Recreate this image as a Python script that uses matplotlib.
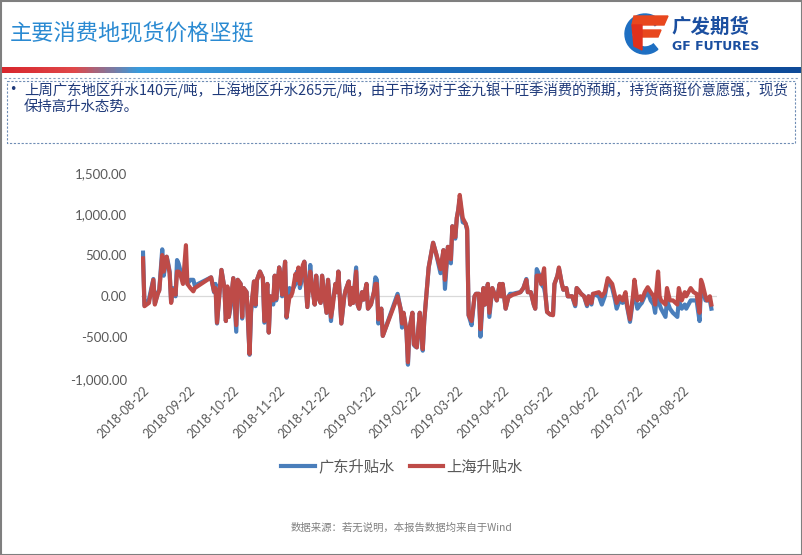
import numpy as np
import pandas as pd
import matplotlib
matplotlib.use('Agg')
import matplotlib.pyplot as plt
from matplotlib.colors import LinearSegmentedColormap
from matplotlib.patches import Rectangle, Wedge, Polygon

plt.rcParams['font.family'] = ['Noto Sans CJK SC', 'DejaVu Sans']

# 数据：距 2018-08-22 的天数，广东 / 上海升贴水（元/吨）
start = '2018-08-22'
day = [0, 1, 4, 7, 8, 10, 11, 13, 14, 16, 17, 18, 19, 20, 22, 23, 24, 25, 27, 29, 30, 32, 34, 35,
       46, 48, 49, 50, 52, 53, 55, 56, 57, 58, 59, 61, 63, 64, 66, 67, 68, 70, 72, 73,
       75, 76, 77, 79, 81, 82, 84, 85, 86, 88, 89, 90, 92, 93, 94, 96, 97, 99, 100, 101,
       103, 104, 105, 106, 108, 109, 111, 113, 114, 116, 117, 118, 120, 121, 123, 124, 125, 127, 128, 130,
       131, 132, 134, 136, 137, 139, 140, 141, 142, 144, 145, 146, 148, 149, 151, 152, 154, 156, 157, 158,
       159, 161, 162,
       172, 174, 175, 176, 178, 179, 180, 182, 183, 184, 185, 186, 187, 189, 190, 193, 196, 198, 201, 203,
       204, 206, 208, 209, 211, 212, 213, 214, 216, 218, 219, 220, 222, 224, 225, 227, 228, 230, 231, 233,
       234, 236, 237, 239,
       240, 241, 242, 243, 245, 247, 248, 250, 252, 255, 257, 259, 260, 262, 264, 265, 266, 268, 269, 271,
       272, 273, 275, 277, 278, 280, 281, 283, 284, 286, 287, 289, 290, 292, 293, 294, 296, 298, 300, 301,
       303, 304,
       308, 310, 312, 314, 317, 319, 320, 322, 324, 326, 327, 329, 331, 332, 334, 336, 337, 339, 341, 343,
       345, 346, 348, 349, 350, 353, 354, 356, 358, 361, 362, 364, 366, 367, 370, 372, 374, 376, 377, 378,
       380, 381, 383, 384]

gd = [530, -110, -40, 210, -90, 40, 80, 570, 250, 480, 400, 300, -70, 100, 0, 440, 400, 330, 200, 300, 150, 200, 200, 130,
      230, 50, 150, -330, 100, 320, 100, -300, 100, -250, -150, 220, -430, 200, 150, -270, 100, 50, -710, -200,
      180, -120, 200, 300, 220, -320, 150, -440, 0, -100, 250, -50, 350, 250, 0, 420, -260, 100, 50, 80,
      150, 300, 300, 100, 250, 420, -130, 380, 150, -100, 250, 0, -80, 250, -50, -200, 200, -300, -100, 150,
      50, 300, -330, 0, 80, 180, -100, 100, -80, 350, -100, -150, 50, -40, 150, -150, -100, 50, 230, 200,
      -330, -150, -480,
      30, -150, -380, -200, -420, -830, -400, -200, -590, -610, -620, -400, -200, -660, -300, 350, 650, 520, 280, 560,
      90, 600, 400, 850, 700, 950, 1050, 1180, 900, 880, 800, -230, -350, 0, 30, 30, -490, 100, -100, 150,
      -250, 100, 50, -50,
      50, 150, 0, 150, -150, 0, 30, 30, 40, 50, 100, 210, 50, 50, -100, -150, 330, 250, 150, 100,
      0, -190, -220, -220, 150, 250, 340, 150, 80, 100, 0, 0, 0, -120, 100, 80, 30, 0, -120, 0,
      -100, 30,
      0, -100, 0, 200, 100, -50, -150, -50, -80, 0, -120, -310, -50, 100, -150, -100, -80, 0, 50, -50,
      -100, -200, 150, -100, -150, -250, -50, -150, -200, -250, -50, -150, -100, -150, -50, -50, -50, -300, 100, 100,
      -50, -50, -50, -150]

sh = [460, -120, -80, 200, -100, 30, 70, 500, 300, 480, 380, 280, -80, 80, 20, 300, 300, 280, 150, 620, 150, 100, 60, 100,
      230, 60, 100, -320, 100, 320, 100, -300, 120, -250, -100, 220, -350, 200, 150, -250, 100, 50, -700, -150,
      180, -100, 200, 300, 220, -300, 150, -440, 0, -50, 250, -30, 350, 250, 20, 420, -250, 0, 0, 50,
      270, 200, 350, 150, 380, 420, -130, 300, 150, -100, 250, 0, -80, 250, -50, -200, 200, -250, -150, 150,
      50, 300, -330, 0, 80, 180, -100, 100, -80, 300, -100, -150, 50, -40, 150, -150, -100, 50, 150, 150,
      -280, -150, -480,
      0, -150, -330, -200, -420, -800, -400, -200, -580, -600, -620, -400, -200, -640, -300, 350, 650, 520, 330, 560,
      200, 600, 450, 850, 720, 950, 1050, 1230, 950, 880, 820, -230, -300, 0, 30, 30, -400, 100, -100, 150,
      -200, 100, 50, -50,
      50, 150, 0, 150, -150, 0, 0, 20, 30, 50, 100, 200, 50, 50, -100, -150, 250, 250, 150, 340,
      0, -190, -220, -230, 150, 250, 350, 150, 80, 100, 0, 0, 0, -100, 100, 80, 30, 0, -100, 0,
      -80, 30,
      50, 0, 50, 220, 150, 0, -80, 0, -50, 50, -100, -280, 0, 200, -50, 0, -50, 50, 110, 50,
      0, -100, 300, 0, -50, -100, 100, -50, -50, -100, 100, -50, 50, 0, 100, 50, 30, -200, 200, 150,
      0, -50, 0, -100]

tick_labels = ['2018-08-22', '2018-09-22', '2018-10-22', '2018-11-22', '2018-12-22', '2019-01-22',
               '2019-02-22', '2019-03-22', '2019-04-22', '2019-05-22', '2019-06-22', '2019-07-22', '2019-08-22']
y_ticks = [-1000, -500, 0, 500, 1000, 1500]
series_names = ['广东升贴水', '上海升贴水']

dates = pd.Timestamp(start) + pd.to_timedelta(day, unit='D')
tick_dates = pd.to_datetime(tick_labels)

W, H = 802, 555
fig = plt.figure(figsize=(W / 100, H / 100), dpi=100)

# ---- 页面装饰（像素坐标）
bg = fig.add_axes([0, 0, 1, 1])
bg.set_xlim(0, W)
bg.set_ylim(H, 0)
bg.axis('off')

bg.text(10, 34, '主要消费地现货价格坚挺', fontsize=16, color='#2A8AD2', va='center', ha='left')

# logo
bg.add_patch(Wedge((645, 34), 20, 50, 320, width=7, color='#1E6FC2'))
bg.add_patch(Polygon([(634, 16), (668, 16), (664, 25), (632, 25)], color='#E8471E'))
bg.add_patch(Polygon([(640, 30), (661, 30), (658, 37), (640, 37)], color='#E8471E'))
bg.add_patch(Polygon([(632, 25), (642, 25), (642, 50), (634, 46)], color='#E0301C'))
bg.text(671, 27, '广发期货', fontsize=14, fontweight='bold', color='#1B4FA0', va='center', ha='left')
bg.text(672, 47, 'GF FUTURES', fontsize=9, fontweight='bold', color='#1B4FA0', va='center', ha='left',
        family=['DejaVu Sans'])

# 渐变条
band = LinearSegmentedColormap.from_list('band', [(0, '#D8262C'), (0.09, '#E0484A'), (0.17, '#3A9BDC'),
                                                  (0.5, '#1F72C0'), (1, '#0E4A98')])
bg.imshow(np.linspace(0, 1, 400).reshape(1, -1), cmap=band, aspect='auto',
          extent=[0, W, 73, 67], zorder=1)
bg.plot([4, W - 4], [77.5, 77.5], color='#8AA0BC', lw=0.8, ls=(0, (2, 2)))

# 文本框
bg.add_patch(Rectangle((7, 81), 788, 62, fill=False, ec='#6F8DB5', lw=0.8, ls=(0, (2, 1.5))))
bg.text(9, 89, '•', fontsize=9, color='#1F3A7A', va='center', ha='left', family=['DejaVu Sans'])
bg.text(24, 90, '上周广东地区升水140元/吨，上海地区升水265元/吨，由于市场对于金九银十旺季消费的预期，持货商挺价意愿强，现货',
        fontsize=10.4, color='#1F3A7A', va='center', ha='left')
bg.text(24, 107, '保持高升水态势。', fontsize=10.4, color='#1F3A7A', va='center', ha='left')

bg.text(401, 528, '数据来源：若无说明，本报告数据均来自于Wind', fontsize=7.5, color='#808080',
        va='center', ha='center')

# 外框
bg.add_patch(Rectangle((0.5, 0.5), W - 1, H - 1, fill=False, ec='#7F7F7F', lw=1.5))

# ---- 主图
ax = fig.add_axes([141 / W, 1 - 378.7 / H, 576 / W, 206 / H])
ax.axhline(0, color='#D9D9D9', lw=0.9, zorder=0)
l1, = ax.plot(dates, gd, color='#4A7EBB', lw=3, solid_joinstyle='round', label=series_names[0])
l2, = ax.plot(dates, sh, color='#BE4B48', lw=3, solid_joinstyle='round', label=series_names[1])

ax.set_ylim(-1000, 1500)
ax.set_xlim(pd.Timestamp(start) - pd.Timedelta(days=1.35), pd.Timestamp(start) + pd.Timedelta(days=387.8))
ax.set_yticks(y_ticks)
ax.set_yticklabels(['{:,.2f}'.format(v) for v in y_ticks], family=['Lato', 'DejaVu Sans'])
ax.set_xticks(tick_dates)
ax.set_xticklabels(tick_labels, rotation=45, ha='right', va='top', rotation_mode='anchor',
                   family=['Lato', 'DejaVu Sans'])
ax.tick_params(axis='y', length=0, labelsize=9.5, labelcolor='#595959', pad=10)
ax.tick_params(axis='x', length=0, labelsize=9, labelcolor='#595959', pad=4)
for s in ax.spines.values():
    s.set_visible(False)
ax.patch.set_alpha(0)

fig.legend(handles=[l1, l2], loc='center', bbox_to_anchor=(402 / W, 1 - 467 / H), ncol=2,
           frameon=False, fontsize=11, handlelength=2.2, handletextpad=0.2, columnspacing=1.0,
           labelcolor='#595959')

fig.savefig('out.png', dpi=100)
